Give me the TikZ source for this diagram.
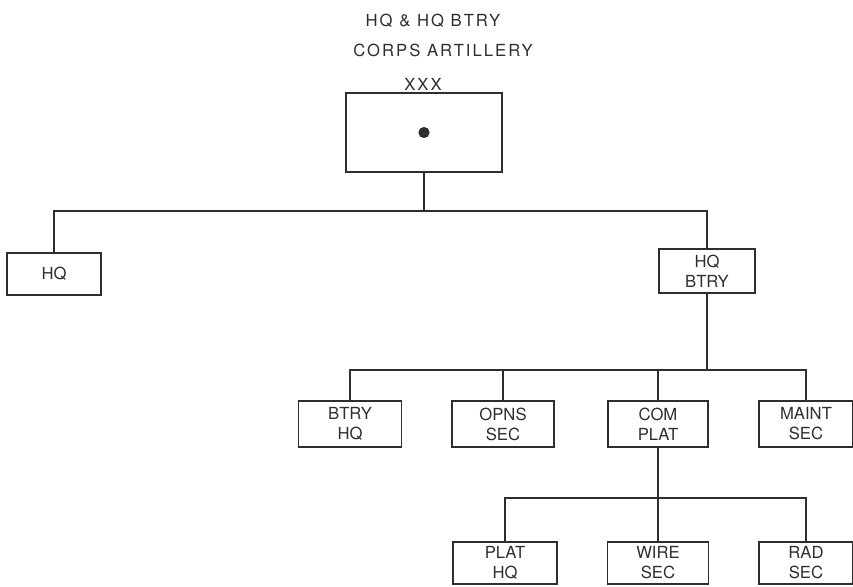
\documentclass[tikz,border=0pt]{standalone}
\usepackage{fontspec}
\setmainfont{TeX Gyre Heros}
\newfontfamily\titlefont[LetterSpace=12]{TeX Gyre Heros}
\definecolor{ink}{HTML}{2E2E2E}
\begin{document}
\begin{tikzpicture}[x=0.75pt,y=-0.75pt,
  orgbox/.style 2 args={draw=ink, line width=1.2pt, minimum width=#1*0.75pt,
    minimum height=#2*0.75pt, inner sep=0pt, align=center, text=ink,
    font=\fontsize{12.5}{15}\selectfont},
  ttl/.style={text=ink, inner sep=0pt, font=\titlefont\fontsize{12.5}{15}\selectfont},
  link/.style={draw=ink, line width=1.2pt}]
\useasboundingbox (0,0) rectangle (853,586);
% titles
\node[ttl] (t1) at (433,20.5) {HQ \& HQ BTRY};
\node[ttl] (t2) at (443,50) {CORPS ARTILLERY};
% top unit
\node[orgbox={156}{79}] (top) at (424,132.5) {};
\node[ttl, anchor=south] (xxx) at (423,91) {XXX};
\fill[ink] (top.center) circle[radius=4.2pt];
% level 1
\node[orgbox={94}{42}] (hq) at (54,274) {HQ};
\node[orgbox={96}{44}] (hqb) at (707,271) {HQ\\BTRY};
% level 2
\node[orgbox={103}{46}] (bhq) at (350,424) {BTRY\\HQ};
\node[orgbox={102}{46}] (opns) at (503,424) {OPNS\\SEC};
\node[orgbox={100}{46}] (com) at (658,424) {COM\\PLAT};
\node[orgbox={94}{46}] (maint) at (806,424) {MAINT\\SEC};
% level 3
\node[orgbox={104}{42}] (plat) at (505,563) {PLAT\\HQ};
\node[orgbox={101}{42}] (wire) at (658,563) {WIRE\\SEC};
\node[orgbox={94}{42}] (rad) at (806,563) {RAD\\SEC};
% buses
\coordinate (b1) at (424,211);
\coordinate (b2) at (707,370);
\coordinate (b3) at (658,498);
\draw[link] (top.south) -- (b1);
\draw[link] (hq.north) |- (b1) -| (hqb.north);
\draw[link] (hqb.south) -- (b2);
\draw[link] (bhq.north) |- (b2) -| (maint.north);
\draw[link] (opns.north) -- (opns.north |- b2);
\draw[link] (com.north) -- (com.north |- b2);
\draw[link] (com.south) -- (wire.north);
\draw[link] (plat.north) |- (b3) -| (rad.north);
\end{tikzpicture}
\end{document}
